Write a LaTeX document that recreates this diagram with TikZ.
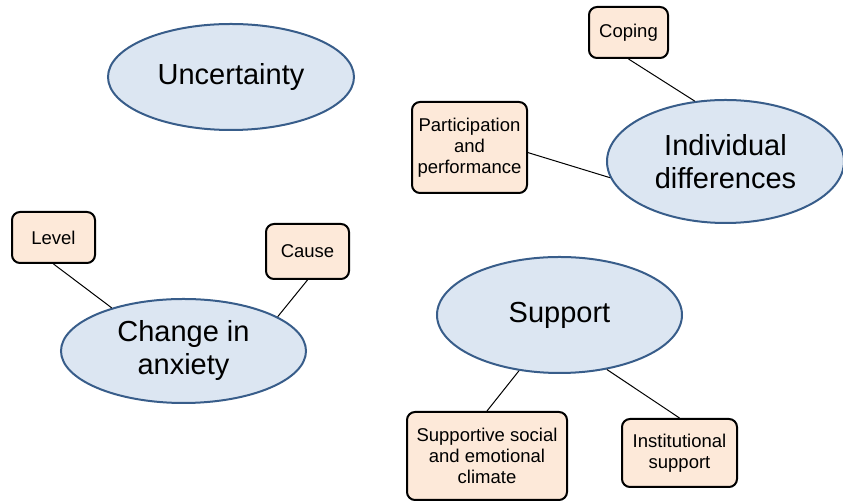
\documentclass[tikz,border=0pt]{standalone}
\usepackage{fontspec}
\setmainfont{Liberation Sans}
\usepackage{xcolor}
\usetikzlibrary{shapes.geometric}
\definecolor{topicfill}{HTML}{DCE6F2}
\definecolor{topicline}{HTML}{385D8A}
\definecolor{itemfill}{HTML}{FDE9D9}

\begin{document}
\begin{tikzpicture}[x=0.5pt,y=-0.5pt,
    topic/.style={ellipse,draw=topicline,fill=topicfill,line width=1pt,inner sep=0pt,align=center,font=\fontsize{14.5}{16.5}\selectfont},
    item/.style={rectangle,rounded corners=4pt,draw=black,fill=itemfill,line width=1pt,inner sep=0pt,align=center,font=\fontsize{9.25}{10.5}\selectfont},
    link/.style={line width=0.5pt}]
    \useasboundingbox (0,0) rectangle (843,501);
    \node[topic,minimum width=123pt,minimum height=53pt] (uncert) at (231,77) {Uncertainty};
    \node[topic,minimum width=118.5pt,minimum height=61.5pt] (indiv) at (725.5,161.5) {Individual\\differences};
    \node[topic,minimum width=122.5pt,minimum height=52pt] (change) at (183.5,351) {Change in\\anxiety};
    \node[topic,minimum width=122.5pt,minimum height=58pt] (supp) at (559.5,315) {Support};
    \node[item,minimum width=39.5pt,minimum height=25.5pt] (coping) at (628.5,32.5) {Coping};
    \node[item,minimum width=57.5pt,minimum height=45.5pt] (partic) at (469.5,147.5) {Participation\\and\\performance};
    \node[item,minimum width=41.5pt,minimum height=25.5pt] (level) at (53.5,237.5) {Level};
    \node[item,minimum width=41.5pt,minimum height=27.5pt] (cause) at (307.5,251.5) {Cause};
    \node[item,minimum width=80pt,minimum height=44pt] (climate) at (487,456) {Supportive social\\and emotional\\climate};
    \node[item,minimum width=57.5pt,minimum height=34pt] (instit) at (679.5,453) {Institutional\\support};
    \draw[link] (coping.south) -- (indiv.117);
    \draw[link] (partic.-5) -- (indiv.188);
    \draw[link] (level.south) -- (change.149);
    \draw[link] (cause.south) -- (change.20);
    \draw[link] (climate.north) -- (supp.234);
    \draw[link] (instit.north) -- (supp.311);
\end{tikzpicture}
\end{document}
